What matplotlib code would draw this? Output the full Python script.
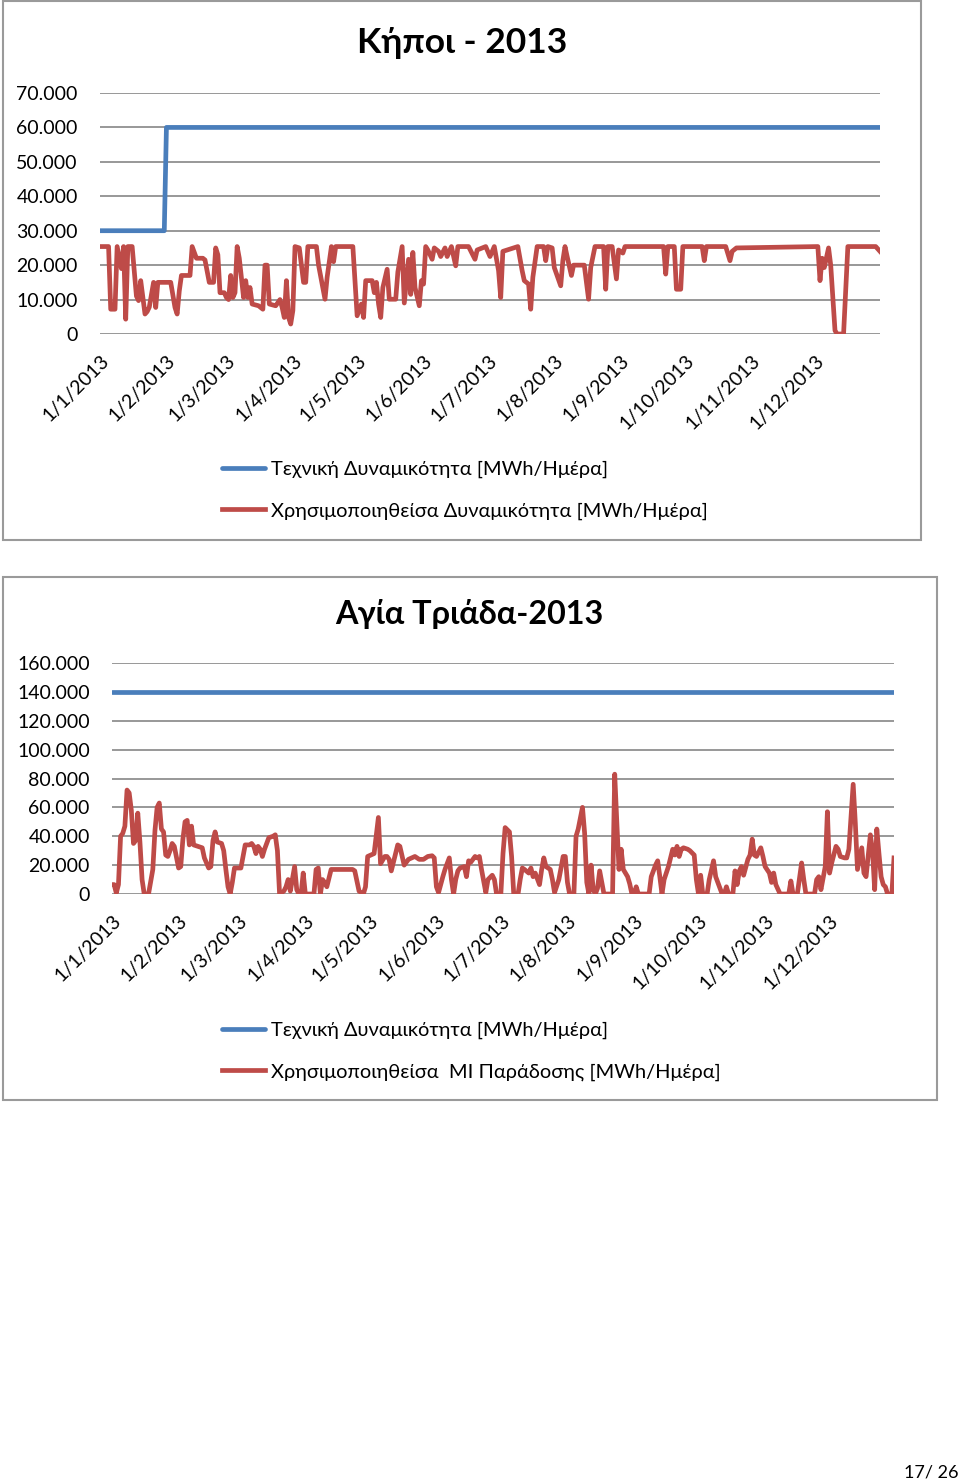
import numpy as np
import matplotlib
matplotlib.use("Agg")
import matplotlib.pyplot as plt
from matplotlib.ticker import FuncFormatter
from matplotlib.patches import Rectangle

plt.rcParams['font.family'] = ['Lato', 'DejaVu Sans']

YEAR_START = np.datetime64('2013-01-01')
month_labels = [f"1/{m}/2013" for m in range(1, 13)]

# Κήποι - 2013 (day of year, MWh/day)
kipoi_cap_days = [0, 30, 31, 364]
kipoi_cap = [30000, 30000, 60000, 60000]
kipoi_used_days = [
    0, 4, 5, 7, 8, 10, 11, 12, 13, 15, 17, 18, 19, 21, 22, 23, 25, 26, 27, 33,
    35, 36, 37, 38, 42, 43, 45, 48, 49, 51, 53, 54, 55, 56, 58, 59, 60, 61, 62, 63,
    64, 65, 67, 68, 69, 70, 71, 74, 76, 77, 78, 79, 82, 84, 85, 86, 87, 88, 89, 90,
    91, 93, 94, 95, 96, 97, 101, 102, 105, 106, 108, 109, 110, 118, 120, 122, 123, 124, 127, 128,
    129, 130, 131, 132, 134, 135, 138, 139, 141, 142, 144, 145, 146, 147, 149, 150, 151, 152, 153, 155,
    156, 158, 159, 161, 162, 164, 166, 167, 172, 175, 176, 180, 182, 184, 186, 187, 188, 195, 197, 198,
    200, 201, 202, 204, 207, 208, 209, 211, 212, 215, 216, 217, 218, 220, 221, 226, 228, 229, 231, 235,
    236, 237, 239, 241, 242, 244, 245, 263, 264, 265, 268, 269, 271, 272, 281, 282, 283, 292, 294, 295,
    297, 335, 336, 337, 338, 340, 341, 343, 344, 347, 349, 362, 364]
kipoi_used = [
    25400, 25400, 7200, 7200, 25400, 19000, 25400, 4300, 25400, 25400, 11000, 9700, 15500, 5800, 6500, 7800, 15000, 7700, 15000, 15000,
    7700, 5800, 12500, 17000, 17000, 25400, 22000, 22000, 21500, 15000, 15000, 25000, 23000, 12000, 12000, 10600, 10000, 17000, 10600, 12000,
    25400, 22000, 10600, 15500, 10600, 13500, 8700, 8200, 7200, 20000, 20000, 8700, 8200, 10000, 7700, 4800, 15500, 4800, 2900, 6800,
    25400, 25000, 20000, 15000, 15000, 25400, 25400, 20000, 10100, 16500, 25400, 21000, 25400, 25400, 5300, 8700, 4800, 15500, 15500, 12000,
    15000, 8700, 4800, 13500, 18800, 10100, 10100, 18000, 25400, 9000, 21700, 11500, 23700, 13500, 8200, 15500, 14500, 25400, 24400, 21700,
    25000, 24000, 22500, 25000, 22500, 25400, 19800, 25400, 25400, 21700, 24400, 25400, 22500, 25400, 18400, 10600, 24000, 25400, 18400, 15500,
    14500, 7200, 16500, 25400, 25400, 21300, 25400, 25000, 19300, 14000, 21300, 25400, 22500, 17000, 20000, 20000, 10100, 19300, 25400, 25400,
    13000, 25400, 25400, 16000, 24400, 23500, 25400, 25400, 17400, 25400, 25400, 13000, 13000, 25400, 25400, 21300, 25400, 25400, 21300, 24000,
    25000, 25400, 15500, 22000, 19300, 25000, 20000, 1000, 0, 0, 25400, 25400, 24000]

# Αγία Τριάδα - 2013 (day of year, MWh/day)
triada_cap_days = [0, 364]
triada_cap = [140000, 140000]
triada_used_days = [
    0, 1, 2, 3, 4, 5, 6, 7, 8, 9, 10, 11, 12, 13, 14, 15, 17, 19, 20, 21,
    22, 23, 24, 25, 26, 27, 28, 29, 31, 32, 33, 34, 35, 36, 37, 38, 40, 42, 43, 45,
    46, 47, 48, 49, 51, 52, 53, 54, 55, 56, 57, 60, 62, 64, 65, 66, 67, 68, 69, 70,
    71, 73, 75, 76, 77, 78, 80, 81, 82, 83, 85, 86, 87, 88, 89, 90, 94, 95, 96, 97,
    98, 99, 100, 102, 112, 113, 115, 117, 118, 119, 122, 124, 125, 127, 128, 129, 130, 132, 133, 134,
    136, 138, 141, 143, 145, 147, 149, 150, 151, 152, 154, 155, 157, 158, 159, 160, 161, 162, 164, 165,
    166, 167, 169, 170, 171, 172, 174, 175, 177, 178, 179, 181, 182, 183, 185, 186, 187, 189, 190, 191,
    192, 194, 195, 196, 197, 199, 200, 201, 202, 204, 205, 206, 208, 210, 211, 212, 213, 215, 216, 217,
    219, 220, 221, 222, 223, 224, 225, 226, 227, 228, 229, 233, 234, 235, 236, 237, 238, 240, 241, 242,
    243, 244, 245, 250, 251, 253, 254, 255, 256, 257, 258, 259, 261, 262, 263, 264, 265, 266, 268, 269,
    271, 272, 273, 274, 275, 277, 278, 280, 281, 282, 284, 285, 286, 287, 289, 290, 291, 292, 293, 294,
    296, 297, 298, 299, 300, 302, 303, 304, 306, 307, 308, 309, 311, 315, 316, 317, 319, 321, 322, 323,
    327, 328, 329, 330, 332, 333, 334, 335, 337, 338, 339, 341, 342, 343, 345, 346, 347, 349, 350, 351,
    353, 354, 355, 356, 357, 358, 359, 360, 361, 363, 364]
triada_used = [
    6500, 6500, 700, 6500, 40000, 42000, 47000, 72000, 70000, 58000, 35000, 37000, 56000, 36000, 10000, 0, 0, 17000, 44000, 60000,
    63000, 45000, 43000, 27000, 26000, 30000, 35000, 33000, 18000, 19000, 38000, 50000, 51000, 34000, 47000, 34000, 33000, 32000, 25000, 18000,
    19000, 37000, 43000, 36000, 35000, 30000, 17000, 5000, 0, 8000, 18000, 18000, 34000, 34000, 35000, 33000, 28000, 33000, 31000, 26000,
    31000, 39000, 40000, 41000, 30000, 0, 2000, 5000, 10000, 2000, 19000, 3000, 0, 0, 14500, 0, 0, 17000, 18000, 0,
    10000, 8000, 5000, 17000, 17000, 16000, 2000, 0, 5000, 26000, 28000, 53000, 21000, 26000, 26000, 24000, 16000, 28000, 34000, 33000,
    20000, 24000, 26000, 24000, 24000, 26000, 26500, 25000, 5000, 1000, 12000, 17000, 25000, 10000, 0, 10000, 16000, 18000, 19000, 12000,
    23000, 22000, 26000, 25000, 26000, 17000, 1000, 10000, 13000, 10000, 0, 0, 28000, 46000, 43000, 26000, 0, 0, 10000, 18000,
    17000, 14500, 18000, 12000, 14500, 6500, 17000, 25000, 19000, 17000, 10000, 1000, 10000, 26000, 26000, 8000, 0, 0, 40000, 45000,
    60000, 42000, 8000, 0, 20000, 3000, 0, 4000, 16000, 8000, 0, 0, 83000, 49000, 17000, 31000, 17000, 12000, 7000, 0,
    0, 5000, 0, 0, 12000, 20000, 23000, 12000, 0, 10000, 14500, 19000, 31000, 27000, 33000, 26000, 31000, 32000, 31000, 30000,
    27000, 10000, 0, 13000, 0, 0, 10000, 23000, 12000, 8000, 0, 0, 5000, 0, 0, 16000, 6500, 16000, 19000, 13000,
    24000, 27000, 38000, 27000, 26000, 32000, 26000, 19000, 14500, 8000, 14500, 6500, 0, 0, 9000, 0, 0, 21500, 10000, 0,
    0, 10000, 12000, 3000, 19000, 57000, 14500, 21500, 33000, 31000, 26000, 25000, 25000, 31000, 76000, 49000, 17000, 32000, 14500, 12000,
    41000, 30000, 3000, 45000, 28000, 12000, 6500, 5000, 0, 0, 25000]

BLUE = '#4A7EBB'
RED = '#BE4B48'
GRID = '#868686'
W, H = 960, 1484


def to_dates(days):
    return YEAR_START + np.array(days, dtype='timedelta64[D]')


def fmt_thousands(v, pos):
    if v == 0:
        return "0"
    return f"{int(round(v)):,}".replace(",", ".")


def fig_rect(x0, y0, x1, y1):
    # pixel box (top-left origin) -> figure fraction
    return [x0 / W, 1 - y1 / H, (x1 - x0) / W, (y1 - y0) / H]


def draw_chart(fig, box, title, title_xy, title_size, cap_days, cap, used_days, used,
               ymax, ystep, labels, legend_xy):
    ax = fig.add_axes(fig_rect(*box))
    ax.plot(to_dates(cap_days), cap, color=BLUE, lw=3.4, label=labels[0],
            solid_capstyle='round', zorder=3)
    ax.plot(to_dates(used_days), used, color=RED, lw=3.4, label=labels[1],
            solid_joinstyle='round', zorder=3)

    ax.set_xlim(YEAR_START, np.datetime64('2013-12-31'))
    ax.set_ylim(0, ymax)
    ax.set_yticks(np.arange(0, ymax + 1, ystep))
    ax.yaxis.set_major_formatter(FuncFormatter(fmt_thousands))
    ax.grid(axis='y', color=GRID, lw=1.2)
    ax.set_axisbelow(True)

    month_starts = np.arange('2013-01', '2014-01', dtype='datetime64[M]').astype('datetime64[D]')
    ax.set_xticks(month_starts)
    ax.set_xticklabels(month_labels, rotation=45, ha='right', va='top',
                       rotation_mode='anchor')
    ax.tick_params(axis='x', length=0, pad=13, labelsize=14)
    ax.tick_params(axis='y', length=0, pad=16, labelsize=14)
    for side in ['top', 'right', 'left', 'bottom']:
        ax.spines[side].set_visible(False)

    fig.text(title_xy[0] / W, 1 - title_xy[1] / H, title, ha='center', va='center',
             fontsize=title_size, fontweight='bold')
    ax.legend(loc='upper left', bbox_to_anchor=(legend_xy[0] / W, 1 - legend_xy[1] / H),
              bbox_transform=fig.transFigure, frameon=False, fontsize=14.4,
              handlelength=2.15, handletextpad=0.3, labelspacing=1.2,
              borderpad=0, borderaxespad=0)
    return ax


fig = plt.figure(figsize=(W / 100, H / 100), dpi=100)

fig.add_artist(Rectangle((3 / W, 1 - 540 / H), 918 / W, 539 / H, transform=fig.transFigure,
                         fill=False, edgecolor='#9a9a9a', lw=1.5))
fig.add_artist(Rectangle((3 / W, 1 - 1100 / H), 934 / W, 523 / H, transform=fig.transFigure,
                         fill=False, edgecolor='#9a9a9a', lw=1.5))

draw_chart(fig, (100, 93, 880, 334), "Κήποι - 2013", (462, 43), 25.5,
           kipoi_cap_days, kipoi_cap, kipoi_used_days, kipoi_used, 70000, 10000,
           ["Τεχνική Δυναμικότητα [MWh/Ημέρα]",
            "Χρησιμοποιηθείσα Δυναμικότητα [MWh/Ημέρα]"], (222, 461))

draw_chart(fig, (112, 663, 894, 894), "Αγία Τριάδα-2013", (469, 614), 23.3,
           triada_cap_days, triada_cap, triada_used_days, triada_used, 160000, 20000,
           ["Τεχνική Δυναμικότητα [MWh/Ημέρα]",
            "Χρησιμοποιηθείσα  ΜΙ Παράδοσης [MWh/Ημέρα]"], (222, 1022))

fig.text(958 / W, 1 - 1473 / H, "17/ 26", ha='right', va='center', fontsize=13)

fig.savefig("out.png", dpi=100)
